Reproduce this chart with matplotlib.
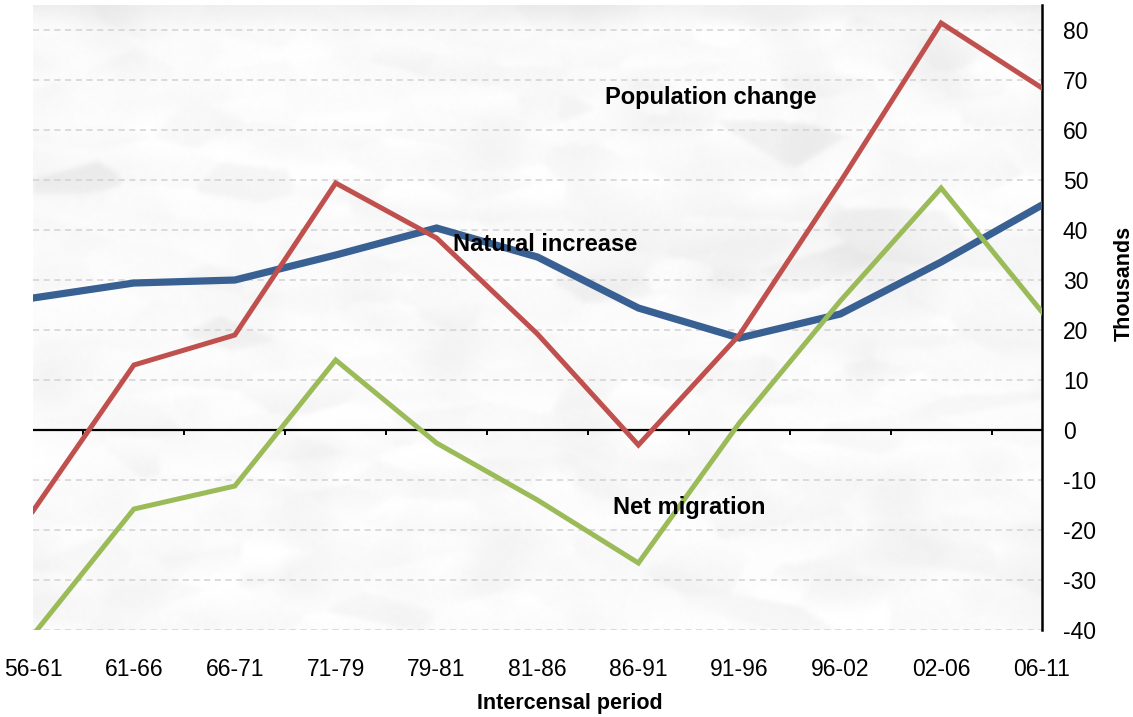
import numpy as np
import matplotlib.pyplot as plt

plt.rcParams['font.family'] = ['Liberation Sans', 'DejaVu Sans']

# intercensal periods and components of population change (thousands)
periods = ['56-61', '61-66', '66-71', '71-79', '79-81', '81-86',
           '86-91', '91-96', '96-02', '02-06', '06-11']
natural_increase = [26.4, 29.4, 30.0, 35.0, 40.4, 34.6, 24.4, 18.4, 23.2, 33.6, 45.0]
population_change = [-16.2, 13.0, 19.0, 49.4, 38.4, 19.2, -3.0, 19.0, 49.6, 81.4, 68.4]
net_migration = [-41.0, -15.8, -11.2, 14.0, -2.6, -14.0, -26.6, 1.4, 25.8, 48.4, 23.6]

y_ticks = list(range(-40, 81, 10))

fig = plt.figure(figsize=(11.33, 7.17), dpi=100)
ax = fig.add_axes([0.0291, 0.1213, 0.8906, 0.8717])

x = np.arange(len(periods))
ax.set_xlim(0, len(periods) - 1)
ax.set_ylim(-40, 85)


def blur(img, n):
    k = np.exp(-np.linspace(-2, 2, n) ** 2)
    k /= k.sum()
    img = np.apply_along_axis(lambda r: np.convolve(r, k, mode='same'), 1, img)
    return np.apply_along_axis(lambda c: np.convolve(c, k, mode='same'), 0, img)


# crumpled paper backdrop: soft faceted shading plus broad haze
rng = np.random.default_rng(11)
h, w = 300, 480
yy, xx = np.mgrid[0:h, 0:w]
n_cells = 320
cy = rng.uniform(0, h, n_cells)
cx = rng.uniform(0, w, n_cells)
d = (xx[None] - cx[:, None, None]) ** 2 / 7.0 + (yy[None] - cy[:, None, None]) ** 2
cell = np.argmin(d, axis=0)
base = -rng.gamma(1.0, 0.008, n_cells)
gx = rng.normal(0, 0.00015, n_cells)
gy = rng.normal(0, 0.0012, n_cells)
facets = base[cell] + gx[cell] * (xx - cx[cell]) + gy[cell] * (yy - cy[cell])
facets = blur(facets, 7)
haze = blur(np.pad(rng.normal(0, 1, (h, w)), 30, mode='wrap'), 61)[30:-30, 30:-30]
haze = haze / haze.std() * 0.012
tex = 0.99 + facets + np.minimum(haze, 0.0) + rng.normal(0, 0.003, (h, w))
tex[:12] -= np.linspace(0.05, 0.0, 12)[:, None]
tex = np.clip(tex, 0.84, 1.0)
ax.imshow(tex, cmap='gray', vmin=0, vmax=1, extent=[0, len(periods) - 1, -40, 85],
          aspect='auto', interpolation='bicubic', zorder=0)

for v in y_ticks:
    if v != 0:
        ax.axhline(v, color='#d2d2d2', lw=1.1, ls=(0, (4, 3)), zorder=1)
ax.axhline(0, color='black', lw=1.6, zorder=2)
# tick marks between categories on the zero line
mids = x[:-1] + 0.5
ax.vlines(mids, -1.0, 0, color='black', lw=1.4, zorder=2)

ax.plot(x, natural_increase, color='#386092', lw=5.2, zorder=3, solid_joinstyle='miter')
ax.plot(x, population_change, color='#C0504D', lw=3.6, zorder=4, solid_joinstyle='miter')
ax.plot(x, net_migration, color='#9BBB59', lw=3.6, zorder=4, solid_joinstyle='miter')

ax.text(6.72, 66.5, 'Population change', fontsize=17, fontweight='bold', ha='center', va='center', zorder=5)
ax.text(5.08, 37.2, 'Natural increase', fontsize=17, fontweight='bold', ha='center', va='center', zorder=5)
ax.text(6.5, -15.4, 'Net migration', fontsize=17, fontweight='bold', ha='center', va='center', zorder=5)

for s in ['left', 'top', 'bottom']:
    ax.spines[s].set_visible(False)
ax.spines['right'].set_linewidth(1.8)
ax.spines['right'].set_bounds(-40, 85)

ax.yaxis.tick_right()
ax.set_yticks(y_ticks)
ax.set_yticklabels([str(v) for v in y_ticks], fontsize=16.5)
ax.tick_params(axis='y', length=0, pad=15)
ax.set_xticks(x)
ax.set_xticklabels(periods, fontsize=16.5)
ax.tick_params(axis='x', length=0, pad=20)

fig.text(570 / 1133, 1 - 704 / 717, 'Intercensal period', fontsize=15.5, fontweight='bold',
         ha='center', va='center')
fig.text(1124 / 1133, 1 - 283 / 717, 'Thousands', rotation=90, fontsize=15.5, fontweight='bold',
         ha='center', va='center')

fig.savefig('out.png', dpi=100)
